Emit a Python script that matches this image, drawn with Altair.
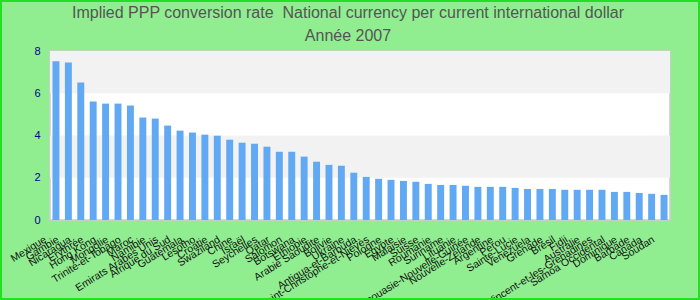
import altair as alt
import pandas as pd

countries = [
    "Mexique", "Gambie", "Nicaragua", "Erythrée", "Hong Kong", "Mongolie",
    "Trinité-et-Tobago", "Maroc", "Namibie", "Emirats Arabes Unis",
    "Afrique du Sud", "Guatemala", "Lesotho", "Croatie", "Swaziland", "Chine",
    "Israël", "Seychelles", "Qatar", "Salomon", "Botswana", "Ethiopie",
    "Arabie Saoudite", "Bolivie", "Ukraine", "Antigua-et-Barbuda",
    "Saint-Christophe-et-Niévès", "Pologne", "Egypte", "Malaisie", "Suisse",
    "Roumanie", "Suriname", "Lituanie", "Papouasie-Nouvelle-Guinée",
    "Nouvelle-Zélande", "Argentine", "Pérou", "Sainte-Lucie", "Venezuela",
    "Grenade", "Brésil", "Fidji", "Australie",
    "Saint-Vincent-et-les-Grenadines", "Samoa Occidental", "Dominique",
    "Barbade", "Canada", "Soudan",
]
values = [
    7.51, 7.46, 6.51, 5.61, 5.51, 5.51, 5.42, 4.85, 4.80, 4.47,
    4.23, 4.14, 4.04, 3.99, 3.80, 3.66, 3.61, 3.47, 3.23, 3.23,
    3.00, 2.76, 2.61, 2.57, 2.24, 2.04, 1.95, 1.90, 1.85, 1.81,
    1.71, 1.66, 1.66, 1.62, 1.57, 1.57, 1.57, 1.52, 1.47, 1.47,
    1.47, 1.43, 1.43, 1.43, 1.43, 1.33, 1.33, 1.28, 1.24, 1.19,
]
band_starts = [2, 6]
band_ends = [4, 8]
title_lines = [
    "Implied PPP conversion rate\u00a0 National currency per current international dollar",
    "Année 2007",
]

df = pd.DataFrame({"pays": countries, "valeur": values})
bands = pd.DataFrame({"y": band_starts, "y2": band_ends})

yscale = alt.Scale(domain=[0, 8], nice=False)
yaxis = alt.Axis(title=None, values=[0, 2, 4, 6, 8], grid=False,
                 ticks=False, domain=False, labelColor="#00008b",
                 labelFontSize=11, labelFont="Liberation Sans",
                 labelPadding=10)

band_layer = alt.Chart(bands).mark_rect(color="#f2f2f2").encode(
    x=alt.value(0), x2=alt.value(620),
    y=alt.Y("y:Q", scale=yscale, axis=yaxis),
    y2="y2:Q",
)

bars = alt.Chart(df).mark_bar(color="#62a9f3").encode(
    x=alt.X("pays:N", sort=None,
            scale=alt.Scale(paddingInner=0.44, paddingOuter=0.2),
            axis=alt.Axis(title=None, labelAngle=-32, labelAlign="right",
                          labelBaseline="top", labelFontSize=10.5,
                          labelColor="#111111", labelFont="Liberation Sans",
                          ticks=False, domain=False, labelPadding=14,
                          labelOverlap=False, labelOffset=-13)),
    y=alt.Y("valeur:Q", scale=yscale, axis=yaxis),
)

title1 = alt.Chart(pd.DataFrame({"t": [title_lines[0]]})).mark_text(
    font="Liberation Sans", fontSize=16, color="#555555",
    align="center", baseline="middle",
).encode(text="t:N", x=alt.value(298), y=alt.value(-38))

title2 = alt.Chart(pd.DataFrame({"t": [title_lines[1]]})).mark_text(
    font="Liberation Sans", fontSize=16, color="#555555",
    align="center", baseline="middle",
).encode(text="t:N", x=alt.value(298), y=alt.value(-15))

border = alt.Chart(bands).mark_rect(
    fill="transparent", stroke="#22e022", strokeWidth=2
).encode(
    x=alt.value(-49), x2=alt.value(649),
    y=alt.value(-50), y2=alt.value(248),
)

chart = alt.layer(band_layer, bars, title1, title2, border).properties(
    width=620, height=169,
    background="#90ee90",
    autosize=alt.AutoSizeParams(type="none"),
    padding={"left": 50, "top": 51, "right": 30, "bottom": 80},
).configure_view(fill="white", stroke="#cccccc", strokeWidth=1.5)

chart.save("out.html", embed_options={"renderer": "svg", "actions": False})
